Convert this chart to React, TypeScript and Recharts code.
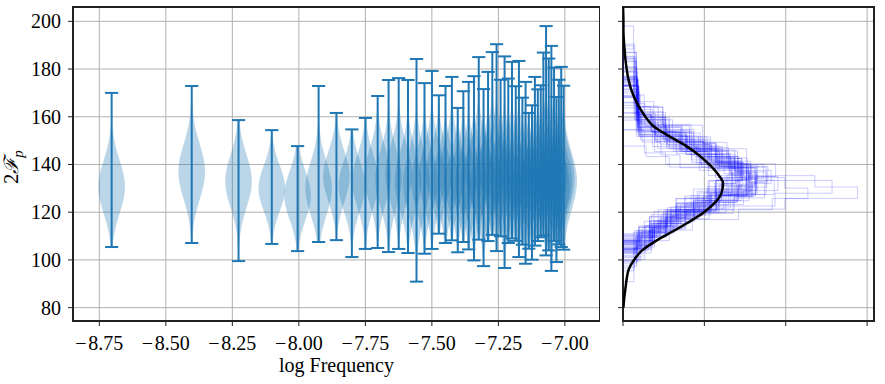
import React from 'react'
import { ComposedChart, Bar, Line, XAxis, YAxis, CartesianGrid, ReferenceArea } from 'recharts'

// log10 of the frequency bins (one violin per bin)
const logFreq = [
  -8.703, -8.402, -8.226, -8.101, -8.004, -7.925, -7.858, -7.8, -7.749, -7.703,
  -7.662, -7.624, -7.589, -7.557, -7.527, -7.499, -7.473, -7.448, -7.424, -7.402,
  -7.381, -7.361, -7.341, -7.323, -7.305, -7.288, -7.272, -7.256, -7.241, -7.226,
  -7.212, -7.198, -7.184, -7.172, -7.159, -7.147, -7.135, -7.123, -7.112, -7.101,
  -7.09, -7.08, -7.07, -7.06, -7.05, -7.04, -7.031, -7.022, -7.013, -7.004,
]

// whisker ends (min / max of 2F_p per bin)
const fMin = [
  105.4, 107.1, 99.5, 106.7, 103.7, 107.5, 108.3, 101.2, 104.6, 105.0,
  103.3, 104.6, 102.9, 90.9, 102.6, 104.6, 111.0, 107.1, 108.2, 103.2,
  107.5, 104.4, 99.8, 108.5, 97.4, 107.9, 110.5, 103.7, 109.9, 96.6,
  107.1, 109.0, 108.0, 101.2, 106.4, 98.4, 104.7, 100.1, 106.0, 107.9,
  109.5, 110.3, 101.9, 104.0, 95.4, 108.0, 99.1, 106.5, 105.4, 104.3,
]
const fMax = [
  170.0, 172.9, 158.6, 154.4, 147.7, 172.9, 161.6, 154.7, 159.5, 168.7,
  175.4, 176.2, 175.4, 184.2, 174.1, 179.2, 169.0, 172.9, 176.7, 163.7,
  170.7, 174.6, 177.0, 185.0, 171.6, 178.8, 187.1, 190.4, 175.5, 185.3,
  176.0, 183.0, 172.8, 183.4, 168.0, 174.6, 161.6, 164.8, 176.7, 171.5,
  173.2, 186.9, 198.0, 184.4, 189.7, 180.6, 168.3, 175.5, 180.9, 173.0,
]
// where each violin is widest, and how spread out it is
const fMode = [
  130.6, 137, 133, 130, 127, 130, 135, 131, 133, 135,
  134, 136, 133, 132, 133, 135, 136, 133, 136, 132,
  134, 133, 132, 137, 131, 134, 138, 136, 134, 133,
  133, 135, 133, 134, 132, 131, 132, 130, 134, 134,
  135, 137, 135, 134, 133, 135, 131, 133, 134, 133,
]
const fSpread = [
  11, 11.5, 11, 9.5, 10, 11, 10.5, 10.5, 11, 11.5,
  12, 12, 12, 13, 12, 12.5, 11, 11.5, 12, 11,
  11.5, 12, 12.5, 12.5, 12.5, 12, 12.5, 13, 11.5, 13.5,
  12, 12.5, 11.5, 13, 11.5, 12.5, 11, 11.5, 12, 11.5,
  11.5, 12.5, 14, 13, 14, 12.5, 12, 12, 12.5, 12,
]

// 10-bin histogram counts per frequency bin (bins span fMin..fMax)
const histCounts = [
  [2, 3, 5, 8, 8, 6, 4, 2, 1, 1],
  [1, 2, 4, 6, 8, 8, 5, 3, 2, 1],
  [1, 1, 3, 5, 7, 9, 7, 4, 2, 1],
  [1, 1, 3, 7, 11, 9, 4, 2, 1, 1],
  [1, 2, 3, 5, 7, 8, 7, 4, 2, 1],
  [2, 4, 6, 8, 7, 5, 4, 2, 1, 1],
  [1, 2, 4, 6, 7, 8, 6, 3, 2, 1],
  [1, 1, 2, 4, 8, 11, 7, 3, 2, 1],
  [1, 2, 3, 6, 7, 8, 6, 4, 2, 1],
  [1, 3, 4, 7, 9, 7, 5, 2, 1, 1],
  [1, 3, 5, 7, 8, 7, 5, 2, 1, 1],
  [1, 2, 5, 6, 9, 7, 5, 3, 1, 1],
  [2, 3, 5, 7, 8, 7, 4, 2, 1, 1],
  [1, 2, 4, 8, 10, 7, 4, 2, 1, 1],
  [1, 3, 5, 8, 8, 6, 4, 3, 1, 1],
  [1, 3, 5, 8, 8, 6, 5, 2, 1, 1],
  [2, 3, 5, 7, 8, 6, 5, 2, 1, 1],
  [2, 4, 6, 8, 8, 5, 3, 2, 1, 1],
  [2, 3, 5, 7, 8, 7, 4, 2, 1, 1],
  [1, 2, 4, 6, 9, 8, 5, 3, 1, 1],
  [1, 3, 5, 8, 9, 6, 4, 2, 1, 1],
  [2, 3, 5, 8, 8, 6, 4, 2, 1, 1],
  [1, 2, 5, 8, 10, 7, 4, 1, 1, 1],
  [2, 4, 7, 9, 7, 5, 3, 1, 1, 1],
  [1, 2, 4, 7, 9, 7, 5, 3, 1, 1],
  [2, 4, 6, 9, 8, 5, 3, 1, 1, 1],
  [2, 4, 7, 8, 7, 6, 3, 1, 1, 1],
  [1, 3, 6, 10, 9, 5, 3, 1, 1, 1],
  [2, 4, 6, 8, 8, 6, 3, 1, 1, 1],
  [1, 2, 5, 8, 10, 7, 4, 1, 1, 1],
  [2, 3, 6, 9, 8, 6, 3, 1, 1, 1],
  [2, 4, 7, 9, 7, 5, 3, 1, 1, 1],
  [2, 3, 6, 8, 8, 6, 4, 1, 1, 1],
  [1, 3, 5, 8, 9, 7, 4, 1, 1, 1],
  [1, 3, 5, 7, 8, 7, 5, 2, 1, 1],
  [1, 2, 4, 7, 10, 8, 5, 1, 1, 1],
  [1, 2, 4, 6, 8, 8, 6, 3, 1, 1],
  [1, 2, 4, 7, 9, 8, 5, 2, 1, 1],
  [2, 3, 6, 8, 8, 6, 4, 1, 1, 1],
  [1, 3, 6, 8, 8, 7, 4, 1, 1, 1],
  [2, 3, 6, 8, 8, 6, 4, 1, 1, 1],
  [2, 4, 7, 9, 7, 5, 3, 1, 1, 1],
  [1, 4, 8, 11, 8, 4, 2, 1, 0, 1],
  [2, 4, 6, 10, 8, 5, 3, 1, 0, 1],
  [1, 2, 5, 8, 11, 7, 3, 1, 1, 1],
  [2, 4, 6, 9, 8, 6, 3, 1, 0, 1],
  [1, 2, 4, 7, 9, 8, 5, 2, 1, 1],
  [2, 3, 6, 9, 8, 6, 3, 1, 1, 1],
  [2, 3, 6, 10, 8, 6, 3, 1, 0, 1],
  [1, 3, 5, 8, 9, 7, 4, 1, 1, 1],
]

// expected distribution (black curve)
const curveValue = [
  80, 84, 88, 92, 96, 100, 104, 108, 112, 116, 120, 124, 128, 132, 136, 140,
  144, 148, 152, 156, 160, 164, 168, 172, 176, 180, 184, 188, 192, 196, 200, 206,
]
const curveDensity = [
  0.0001, 0.0003, 0.0006, 0.0009, 0.0014, 0.0027, 0.0047, 0.0081, 0.0123, 0.0163, 0.0199, 0.0226, 0.0242, 0.0246, 0.0233, 0.0212,
  0.0186, 0.0153, 0.0112, 0.0075, 0.0055, 0.004, 0.0028, 0.0019, 0.0013, 0.0009, 0.0006, 0.0004, 0.0002, 0.0001, 0.0001, 0,
]

const xTicks = [-8.75, -8.5, -8.25, -8.0, -7.75, -7.5, -7.25, -7.0]
const yTicks = [80, 100, 120, 140, 160, 180, 200]
const densityTicks = [0, 0.02, 0.04, 0.06]

const X_DOMAIN: [number, number] = [-8.849, -6.868]
const Y_DOMAIN: [number, number] = [74.4, 206]
const D_DOMAIN: [number, number] = [0, 0.0617]

const C0 = '#1f77b4'
const FONT = '"Liberation Serif", "Times New Roman", serif'
const BODY_HALF = 13.3
const CAP_HALF = 6.6

const violinRows = logFreq.map((pos, i) => ({
  pos,
  range: [fMin[i], fMax[i]],
  min: fMin[i],
  max: fMax[i],
  mode: fMode[i],
  spread: fSpread[i],
}))

// step outline of each density histogram, horizontal orientation
const histLines = histCounts.map((counts, i) => {
  const lo = fMin[i]
  const bw = (fMax[i] - lo) / counts.length
  const total = counts.reduce((a, b) => a + b, 0)
  const pts: { d: number; v: number }[] = [{ d: 0, v: lo }]
  counts.forEach((c, j) => {
    const d = c / (total * bw)
    pts.push({ d, v: lo + j * bw }, { d, v: lo + (j + 1) * bw })
  })
  pts.push({ d: 0, v: fMax[i] })
  return pts
})

const curvePts = curveValue.map((v, i) => ({ v, d: curveDensity[i] }))

function span(props: any) {
  const { x, y, width, height } = props
  const top = Math.min(y, y + height)
  const bottom = Math.max(y, y + height)
  return { cx: x + width / 2, top, bottom }
}

function ViolinBody(props: any) {
  const { payload } = props
  if (!payload) return null
  const { cx, top, bottom } = span(props)
  const { min, max, mode, spread } = payload
  const py = (v: number) => top + ((max - v) / (max - min)) * (bottom - top)
  const right: string[] = []
  const left: string[] = []
  const steps = 48
  for (let s = 0; s <= steps; s++) {
    const v = min + ((max - min) * s) / steps
    const z = (v - mode) / spread
    const w = BODY_HALF * Math.exp(-0.5 * z * z)
    right.push(`${cx + w},${py(v)}`)
    left.unshift(`${cx - w},${py(v)}`)
  }
  return <polygon points={[...right, ...left].join(' ')} fill={C0} fillOpacity={0.3} stroke="none" />
}

function ViolinLines(props: any) {
  const { cx, top, bottom } = span(props)
  return (
    <g stroke={C0} strokeWidth={2}>
      <line x1={cx} x2={cx} y1={top} y2={bottom} />
      <line x1={cx - CAP_HALF} x2={cx + CAP_HALF} y1={top} y2={top} />
      <line x1={cx - CAP_HALF} x2={cx + CAP_HALF} y1={bottom} y2={bottom} />
    </g>
  )
}

const fmtTick = (v: number) => (v < 0 ? '\u2212\u200a' + Math.abs(v).toFixed(2) : v.toFixed(2))

function XTick(props: any) {
  const { x, y, payload } = props
  return (
    <text x={x} y={y} dy="0.71em" textAnchor="middle" fontSize={20} fontFamily={FONT} fill="#000">
      {fmtTick(payload.value)}
    </text>
  )
}

function YTick(props: any) {
  const { x, y, payload } = props
  return (
    <text x={x} y={y} dy="0.35em" textAnchor="end" fontSize={20} fontFamily={FONT} fill="#000">
      {payload.value}
    </text>
  )
}

const NoTick = () => <g />

export default function App() {
  return (
    <div style={{ position: 'absolute', left: 0, top: 0, width: 885, height: 384, background: '#fff', fontFamily: FONT }}>
      <div style={{ position: 'absolute', left: 0, top: 0 }}>
        <ComposedChart width={600} height={384} data={violinRows} margin={{ top: 7, right: 0, bottom: 0, left: 0 }}>
          <XAxis
            xAxisId="a"
            type="number"
            dataKey="pos"
            domain={X_DOMAIN}
            ticks={xTicks}
            allowDataOverflow
            height={63}
            stroke="#222"
            axisLine={false}
            tickSize={5}
            tickMargin={10}
            tick={<XTick />}
            label={(p: any) => {
              const vb = p.viewBox
              return (
                <text x={vb.x + vb.width / 2} y={vb.y + 51} textAnchor="middle" fontSize={20} fontFamily={FONT} fill="#000">
                  log Frequency
                </text>
              )
            }}
          />
          <XAxis xAxisId="b" type="number" dataKey="pos" domain={X_DOMAIN} allowDataOverflow hide />
          <YAxis
            type="number"
            domain={Y_DOMAIN}
            ticks={yTicks}
            allowDataOverflow
            width={73}
            stroke="#222"
            axisLine={false}
            tickSize={5}
            tickMargin={7}
            tick={<YTick />}
            label={(p: any) => {
              const vb = p.viewBox
              const lx = 18
              const ly = vb.y + vb.height / 2 + 3
              return (
                <text x={lx} y={ly} transform={`rotate(-90, ${lx}, ${ly})`} textAnchor="middle" fontSize={20} fontFamily={FONT} fill="#000">
                  2<tspan fontStyle="italic">ℱ</tspan>
                  <tspan fontStyle="italic" fontSize={15} dy={5}>p</tspan>
                </text>
              )
            }}
          />
          <Bar xAxisId="a" dataKey="range" barSize={2} shape={ViolinBody} isAnimationActive={false} />
          <CartesianGrid xAxisId="a" stroke="#b0b0b0" strokeWidth={1} />
          <Bar xAxisId="b" dataKey="range" barSize={2} shape={ViolinLines} isAnimationActive={false} />
          <ReferenceArea xAxisId="a" x1={X_DOMAIN[0]} x2={X_DOMAIN[1]} y1={Y_DOMAIN[0]} y2={Y_DOMAIN[1]} fill="none" stroke="#222" strokeWidth={2} />
        </ComposedChart>
      </div>
      <div style={{ position: 'absolute', left: 600, top: 0 }}>
        <ComposedChart width={285} height={384} margin={{ top: 7, right: 11, bottom: 0, left: 0 }}>
          <XAxis
            type="number"
            dataKey="d"
            domain={D_DOMAIN}
            ticks={densityTicks}
            allowDataOverflow
            height={63}
            stroke="#222"
            axisLine={false}
            tickSize={5}
            tick={<NoTick />}
          />
          <YAxis
            type="number"
            dataKey="v"
            domain={Y_DOMAIN}
            ticks={yTicks}
            allowDataOverflow
            width={23}
            stroke="#222"
            axisLine={false}
            tickSize={5}
            tick={<NoTick />}
          />
          {histLines.map((pts, i) => (
            <Line
              key={i}
              data={pts}
              dataKey="v"
              type="linear"
              stroke="#0000ff"
              strokeOpacity={0.2}
              strokeWidth={1}
              dot={false}
              activeDot={false}
              isAnimationActive={false}
            />
          ))}
          <CartesianGrid stroke="#b0b0b0" strokeWidth={1} />
          <Line data={curvePts} dataKey="v" type="monotoneY" stroke="#000" strokeWidth={2.5} dot={false} activeDot={false} isAnimationActive={false} />
          <ReferenceArea x1={D_DOMAIN[0]} x2={D_DOMAIN[1]} y1={Y_DOMAIN[0]} y2={Y_DOMAIN[1]} fill="none" stroke="#222" strokeWidth={2} />
        </ComposedChart>
      </div>
    </div>
  )
}
